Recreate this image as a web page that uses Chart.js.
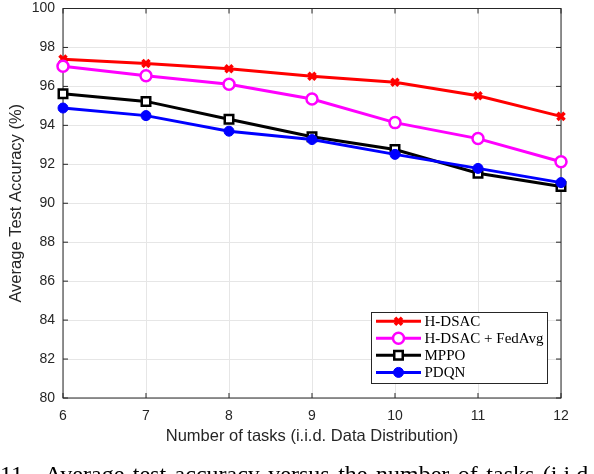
<!DOCTYPE html>
<html><head><meta charset="utf-8">
<script src="https://cdn.jsdelivr.net/npm/chart.js@4.4.1/dist/chart.umd.min.js"></script>
<style>
html,body{margin:0;padding:0;background:#fff;overflow:hidden;width:594px;height:474px;}
#wrap{position:relative;width:594px;height:474px;}
#cap{position:absolute;left:0;top:461.5px;font-family:'Liberation Serif';font-size:24px;line-height:24px;white-space:nowrap;word-spacing:2.5px;color:#000;}
</style></head><body>
<div id="wrap"><canvas id="c"></canvas>
<div id="cap">11.&nbsp; Average test accuracy versus the number of tasks (i.i.d. Data Distribution)</div></div>
<script>
const categories = [6, 7, 8, 9, 10, 11, 12];
const hdsac = [97.40, 97.18, 96.91, 96.52, 96.21, 95.52, 94.46];
const hdsacFedAvg = [97.03, 96.55, 96.11, 95.35, 94.14, 93.32, 92.13];
const mppo = [95.62, 95.23, 94.31, 93.41, 92.76, 91.54, 90.86];
const pdqn = [94.89, 94.50, 93.70, 93.27, 92.51, 91.79, 91.06];
const seriesNames = ['H-DSAC', 'H-DSAC + FedAvg', 'MPPO', 'PDQN'];
const xTicks = [6, 7, 8, 9, 10, 11, 12];
const yTicks = [80, 82, 84, 86, 88, 90, 92, 94, 96, 98, 100];
const xTitle = 'Number of tasks (i.i.d. Data Distribution)';
const yTitle = 'Average Test Accuracy (%)';

const AX = '#262626';
const pts = arr => categories.map((c, i) => ({x: c, y: arr[i]}));

const styles = [
  {color: '#ff0000', pointStyle: 'crossRot', radius: 5, pbw: 3.5, bg: '#ff0000', order: 3},
  {color: '#ff00ff', pointStyle: 'circle', radius: 5.5, pbw: 2.5, bg: '#ffffff', order: 2},
  {color: '#000000', pointStyle: 'rect', radius: 6, pbw: 2.5, bg: '#ffffff', order: 1},
  {color: '#0000ff', pointStyle: 'circle', radius: 5, pbw: 1, bg: '#0000ff', order: 0}
];
const seriesData = [hdsac, hdsacFedAvg, mppo, pdqn];

const datasets = seriesData.map((d, i) => ({
  label: seriesNames[i],
  data: pts(d),
  borderColor: styles[i].color,
  backgroundColor: styles[i].bg,
  borderWidth: 3,
  pointStyle: styles[i].pointStyle,
  pointRadius: styles[i].radius,
  pointBorderWidth: styles[i].pbw,
  pointBackgroundColor: styles[i].bg,
  pointBorderColor: styles[i].color,
  pointHoverRadius: styles[i].radius,
  tension: 0,
  clip: false,
  order: styles[i].order
}));

const framePlugin = {
  id: 'frame',
  beforeDatasetsDraw(chart) {
    const ctx = chart.ctx, a = chart.chartArea;
    const xs = chart.scales.x, ys = chart.scales.y;
    ctx.save();
    ctx.strokeStyle = AX;
    ctx.lineWidth = 1;
    ctx.strokeRect(a.left, a.top, a.right - a.left, a.bottom - a.top);
    const tl = 5;
    ctx.beginPath();
    xTicks.forEach(v => {
      const px = xs.getPixelForValue(v);
      ctx.moveTo(px, a.bottom); ctx.lineTo(px, a.bottom - tl);
      ctx.moveTo(px, a.top); ctx.lineTo(px, a.top + tl);
    });
    yTicks.forEach(v => {
      const py = ys.getPixelForValue(v);
      ctx.moveTo(a.left, py); ctx.lineTo(a.left + tl, py);
      ctx.moveTo(a.right, py); ctx.lineTo(a.right - tl, py);
    });
    ctx.stroke();
    ctx.restore();
  },
  afterDraw(chart) {
    const ctx = chart.ctx;
    ctx.save();
    // legend
    const bx = 371, by = 312, bw = 176, bh = 71;
    ctx.fillStyle = '#ffffff';
    ctx.fillRect(bx, by, bw, bh);
    ctx.strokeStyle = AX;
    ctx.lineWidth = 1;
    ctx.strokeRect(bx + 0.5, by + 0.5, bw, bh);
    const rows = [321.2, 338.3, 355.3, 372.4];
    ctx.font = "15px 'Liberation Serif'";
    ctx.textBaseline = 'middle';
    ctx.textAlign = 'left';
    datasets.forEach((ds, i) => {
      const y = rows[i];
      ctx.strokeStyle = ds.borderColor;
      ctx.lineWidth = 3;
      ctx.beginPath();
      ctx.moveTo(376, y); ctx.lineTo(421, y);
      ctx.stroke();
      ctx.fillStyle = ds.pointBackgroundColor;
      ctx.strokeStyle = ds.pointBorderColor;
      ctx.lineWidth = ds.pointBorderWidth;
      Chart.helpers.drawPoint(ctx, {pointStyle: ds.pointStyle, radius: ds.pointRadius, rotation: 0, borderWidth: ds.pointBorderWidth}, 398.5, y);
      ctx.fillStyle = '#000';
      ctx.fillText(ds.label, 424.5, y + 1);
    });
    ctx.restore();
  }
};

new Chart(document.getElementById('c'), {
  type: 'line',
  data: {datasets},
  plugins: [framePlugin],
  options: {
    responsive: true,
    maintainAspectRatio: false,
    animation: false,
    devicePixelRatio: 1,
    layout: {padding: {left: 0, top: 6, right: 33, bottom: 0}},
    plugins: {legend: {display: false}, tooltip: {enabled: false}},
    scales: {
      x: {
        type: 'linear', min: 6, max: 12,
        afterBuildTicks: s => { s.ticks = xTicks.map(v => ({value: v})); },
        afterFit: s => { s.height = 76; s.paddingLeft = 0; s.paddingRight = 0; },
        grid: {color: '#e6e6e6', lineWidth: 1, drawTicks: false},
        border: {display: false},
        ticks: {color: AX, font: {family: "'Liberation Sans'", size: 14}, padding: 10, maxRotation: 0, autoSkip: false},
        title: {display: true, text: xTitle, color: AX, font: {family: "'Liberation Sans'", size: 16.5}, padding: {top: 0, bottom: 27.5}}
      },
      y: {
        min: 80, max: 100,
        afterBuildTicks: s => { s.ticks = yTicks.map(v => ({value: v})); },
        afterFit: s => { s.width = 63; s.paddingTop = 0; s.paddingBottom = 0; },
        grid: {color: '#e6e6e6', lineWidth: 1, drawTicks: false},
        border: {display: false},
        ticks: {color: AX, font: {family: "'Liberation Sans'", size: 14}, padding: 8, autoSkip: false},
        title: {display: true, text: yTitle, color: AX, font: {family: "'Liberation Sans'", size: 16.5}, padding: {top: 7, bottom: 0}}
      }
    }
  }
});
</script>
</body></html>
